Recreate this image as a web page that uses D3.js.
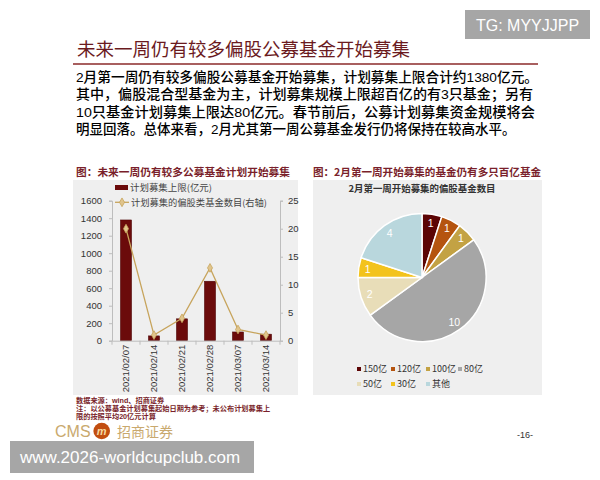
<!DOCTYPE html>
<html><head><meta charset="utf-8">
<script src="https://cdn.jsdelivr.net/npm/d3@7"></script>
<style>
html,body{margin:0;padding:0;background:#fff;}
svg{display:block;}
</style></head>
<body>
<svg id="c" width="600" height="480"></svg>
<script>
// ---- data ----
const weeks = ["2021/02/07","2021/02/14","2021/02/21","2021/02/28","2021/03/07","2021/03/14"];
const capValues = [1380, 55, 250, 680, 100, 75];      // 计划募集上限(亿元)
const fundCounts = [20, 1, 4, 13, 2, 1];               // 偏股类基金数目(右轴)
const leftTicks = [0, 200, 400, 600, 800, 1000, 1200, 1400, 1600];
const rightTicks = [0, 5, 10, 15, 20, 25];
const pieCats = ["150亿","120亿","100亿","80亿","50亿","30亿","其他"];
const pieValues = [1, 1, 1, 10, 2, 1, 4];
const pieColors = ["#5c0505","#b5540f","#c3a244","#a6a6a6","#e8ddb8","#f3c31c","#b9d7dd"];
const bodyLines = [
  "2月第一周仍有较多偏股公募基金开始募集，计划募集上限合计约1380亿元。",
  "其中，偏股混合型基金为主，计划募集规模上限超百亿的有3只基金；另有",
  "10只基金计划募集上限达80亿元。春节前后，公募计划募集资金规模将会",
  "明显回落。总体来看，2月尤其第一周公募基金发行仍将保持在较高水平。"
];
const noteLines = [
  "数据来源：wind、招商证券",
  "注：以公募基金计划募集起始日期为参考；未公布计划募集上",
  "限的按照平均20亿元计算"
];

const CJK = "'Noto Sans CJK SC','Noto Sans',sans-serif";
const LAT = "'Liberation Sans',Arial,sans-serif";
const MIX = "'Liberation Sans','Noto Sans CJK SC',sans-serif";
const svg = d3.select("#c");

// ---- header ----
svg.append("text").attr("x",77).attr("y",56).attr("font-family",CJK).attr("font-size",18.5)
  .attr("fill","#6b1a1e").text("未来一周仍有较多偏股公募基金开始募集");
svg.append("line").attr("x1",73).attr("x2",538).attr("y1",64).attr("y2",64)
  .attr("stroke","#8b2a2a").attr("stroke-width",1.5);
const bodyLens = [462, 457, 459, null];
bodyLines.forEach((t,i)=>{
  const tx = svg.append("text").attr("x",76).attr("y",82+i*17.4)
    .attr("font-family",MIX).attr("font-size",13.5).attr("font-weight",500).attr("fill","#000").text(t);
  if (bodyLens[i]) tx.attr("textLength",bodyLens[i]).attr("lengthAdjust","spacingAndGlyphs");
});

// ---- panels ----
svg.append("rect").attr("x",73).attr("y",180).attr("width",225).attr("height",215).attr("fill","#efefef");
svg.append("rect").attr("x",313).attr("y",180).attr("width",229).attr("height",215).attr("fill","#efefef");
svg.append("text").attr("x",76).attr("y",175.5).attr("font-family",CJK).attr("font-size",10.6)
  .attr("font-weight","bold").attr("fill","#7a1f2b").attr("textLength",214).attr("lengthAdjust","spacingAndGlyphs")
  .text("图：未来一周仍有较多公募基金计划开始募集");
svg.append("text").attr("x",313).attr("y",175.5).attr("font-family",CJK).attr("font-size",10.6)
  .attr("font-weight","bold").attr("fill","#7a1f2b").attr("textLength",228).attr("lengthAdjust","spacingAndGlyphs")
  .text("图：2月第一周开始募集的基金仍有多只百亿基金");

// ---- left combo chart ----
const x = d3.scaleBand().domain(weeks).range([112,280]).paddingInner(0.6).paddingOuter(0.3);
const yL = d3.scaleLinear().domain([0,1600]).range([340.7,200.7]);
const yR = d3.scaleLinear().domain([0,25]).range([340.7,200.7]);
const axisColor = "#bdbdbd";

const gL = svg.append("g").attr("transform","translate(112,0)")
  .call(d3.axisLeft(yL).tickValues(leftTicks).tickFormat(d3.format("d")).tickSize(3).tickPadding(7));
const gR = svg.append("g").attr("transform","translate(280,0)")
  .call(d3.axisRight(yR).tickValues(rightTicks).tickFormat(d3.format("d")).tickSize(3).tickPadding(5));
[gL,gR].forEach(g=>{
  g.selectAll("path,line").attr("stroke",axisColor);
  g.selectAll("text").attr("font-family",LAT).attr("font-size",9.5).attr("fill","#333");
});

// bars
svg.append("g").selectAll("rect").data(weeks).join("rect")
  .attr("x",d=>x(d)).attr("width",x.bandwidth())
  .attr("y",(d,i)=>yL(capValues[i])).attr("height",(d,i)=>yL(0)-yL(capValues[i]))
  .attr("fill","#6b0b0b").attr("stroke","#4a0404").attr("stroke-width",0.5);

// x axis
const gX = svg.append("g").attr("transform",`translate(0,${yL(0)})`)
  .call(d3.axisBottom(x).tickSize(0));
gX.select(".domain").attr("stroke",axisColor);
gX.selectAll("text").attr("font-family",LAT).attr("font-size",9.5).attr("fill","#333")
  .attr("transform","rotate(-90)").attr("text-anchor","end").attr("x",-4).attr("y",0).attr("dy","0.35em");
const bounds = weeks.map(d=>x(d)-x.step()*x.paddingInner()/2).concat([x(weeks[weeks.length-1])+x.bandwidth()+x.step()*x.paddingInner()/2]);
gX.selectAll("line.bnd").data(bounds).join("line").attr("class","bnd")
  .attr("x1",d=>d).attr("x2",d=>d).attr("y1",0).attr("y2",4).attr("stroke",axisColor);

// line
const lineColor = "#c7a45c";
const cx = d=>x(d)+x.bandwidth()/2;
const ln = d3.line().x((d,i)=>cx(weeks[i])).y(d=>yR(d));
svg.append("path").datum(fundCounts).attr("d",ln).attr("fill","none")
  .attr("stroke",lineColor).attr("stroke-width",1.3);
const sym = d3.symbol().type(d3.symbolDiamond).size(22);
svg.append("g").selectAll("path").data(fundCounts).join("path")
  .attr("transform",(d,i)=>`translate(${cx(weeks[i])},${yR(d)})`).attr("d",sym)
  .attr("fill","#e0c48c").attr("stroke",lineColor).attr("stroke-width",0.8);

// left legend
svg.append("rect").attr("x",115).attr("y",185).attr("width",13).attr("height",5).attr("fill","#6b0b0b");
svg.append("text").attr("x",130).attr("y",190.5).attr("font-family",CJK).attr("font-size",9).attr("fill","#444")
  .attr("textLength",82).attr("lengthAdjust","spacingAndGlyphs").text("计划募集上限(亿元)");
svg.append("line").attr("x1",115).attr("x2",129).attr("y1",202.3).attr("y2",202.3).attr("stroke",lineColor).attr("stroke-width",1.3);
svg.append("path").attr("transform","translate(122,202.3)").attr("d",sym)
  .attr("fill","#e0c48c").attr("stroke",lineColor).attr("stroke-width",0.8);
svg.append("text").attr("x",131).attr("y",205.5).attr("font-family",CJK).attr("font-size",9).attr("fill","#444")
  .attr("textLength",136).attr("lengthAdjust","spacingAndGlyphs").text("计划募集的偏股类基金数目(右轴)");

// notes
noteLines.forEach((t,i)=>{
  svg.append("text").attr("x",76).attr("y",[402.5,411,419][i]).attr("font-family",MIX)
    .attr("font-size",7.2).attr("font-weight","bold").attr("fill","#7a1f2b").text(t);
});

// ---- right pie ----
svg.append("text").attr("x",422).attr("y",191.5).attr("text-anchor","middle").attr("font-family",CJK)
  .attr("font-size",9.5).attr("font-weight","bold").attr("fill","#333")
  .attr("textLength",147).attr("lengthAdjust","spacingAndGlyphs").text("2月第一周开始募集的偏股基金数目");
const pie = d3.pie().sort(null).value(d=>d)(pieValues);
const arc = d3.arc().innerRadius(0).outerRadius(64);
const lab = d3.arc().innerRadius(55).outerRadius(55);
const gP = svg.append("g").attr("transform","translate(422,277.5)");
gP.selectAll("path").data(pie).join("path").attr("d",arc)
  .attr("fill",(d,i)=>pieColors[i]).attr("stroke","#fff").attr("stroke-width",1.5);
gP.selectAll("text").data(pie).join("text")
  .attr("transform",d=>{const c=lab.centroid(d);return `translate(${c[0]},${c[1]})`;})
  .attr("text-anchor","middle").attr("dy","0.35em").attr("font-family",LAT).attr("font-size",10.5)
  .attr("fill","#fff").text(d=>d.data);

// pie legend
const colX = [357,391,426,458];
const gLeg = svg.append("g");
pieCats.forEach((c,i)=>{
  const row = i<4?0:1, col = i<4?i:i-4;
  const lx = colX[col], ly = row===0?369:384;
  gLeg.append("rect").attr("x",lx).attr("y",ly-2).attr("width",4).attr("height",4).attr("fill",pieColors[i]);
  gLeg.append("text").attr("x",lx+6).attr("y",ly+3.3).attr("font-family",CJK).attr("font-size",9)
    .attr("fill","#333").text(c);
});

// ---- footer ----
svg.append("text").attr("x",55).attr("y",437).attr("font-family",LAT).attr("font-size",16)
  .attr("fill","#c9a96e").text("CMS");
svg.append("circle").attr("cx",101.7).attr("cy",431).attr("r",8.3).attr("fill","#c24e10");
svg.append("text").attr("x",101.7).attr("y",434.5).attr("text-anchor","middle").attr("font-family",LAT)
  .attr("font-size",11).attr("font-style","italic").attr("font-weight","bold").attr("fill","#f6d9a0").text("m");
svg.append("text").attr("x",117).attr("y",436.5).attr("font-family",MIX).attr("font-size",14)
  .attr("fill","#c9a96e").text("招商证券");
svg.append("text").attr("x",525).attr("y",438).attr("text-anchor","middle").attr("font-family",LAT)
  .attr("font-size",9).attr("fill","#333").text("-16-");

// watermarks
svg.append("rect").attr("x",465).attr("y",10).attr("width",125).attr("height",29).attr("fill","#a6a6a6");
svg.append("text").attr("x",527.5).attr("y",30.5).attr("text-anchor","middle").attr("font-family",LAT)
  .attr("font-size",16).attr("fill","#fff").text("TG: MYYJJPP");
svg.append("rect").attr("x",10).attr("y",441).attr("width",244).attr("height",32).attr("fill","#a6a6a6");
svg.append("text").attr("x",20).attr("y",463).attr("font-family",LAT)
  .attr("font-size",17).attr("fill","#fff").text("www.2026-worldcupclub.com");
</script>
</body></html>
